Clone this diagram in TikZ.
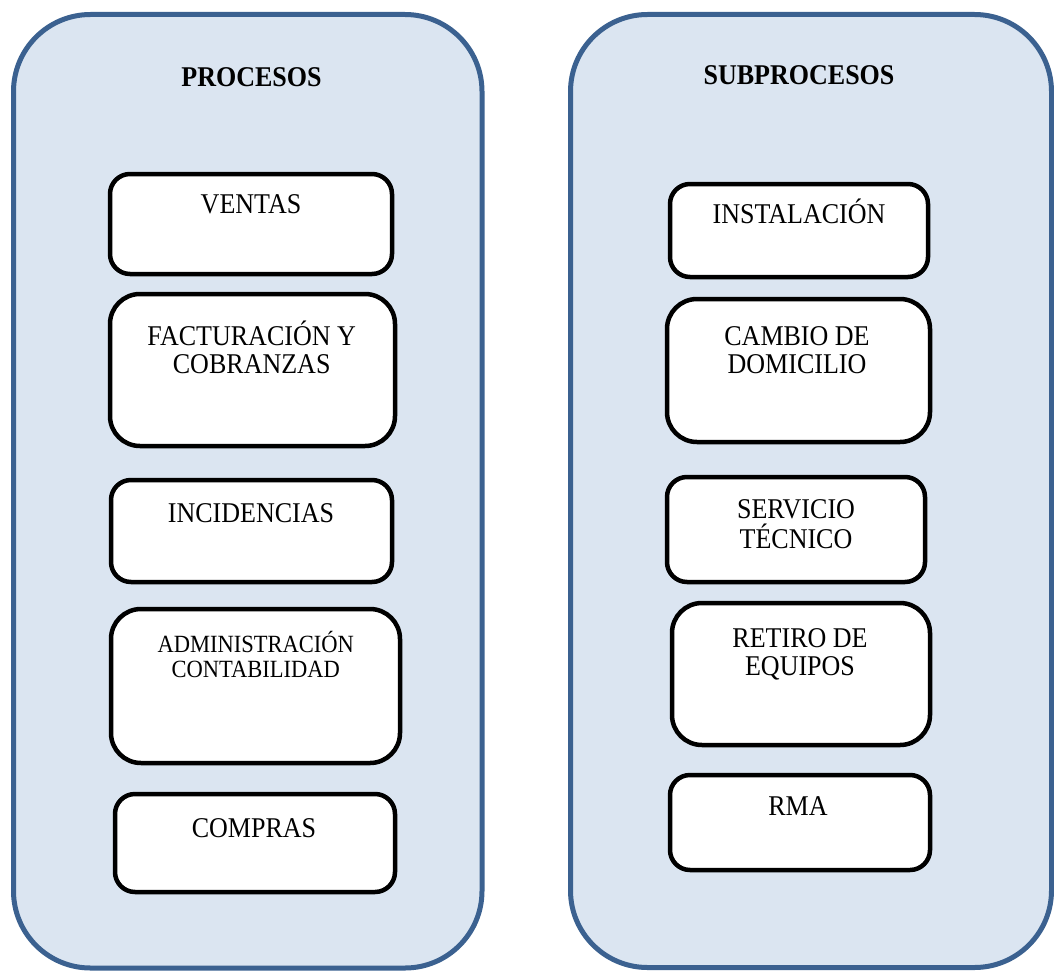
\documentclass[tikz,border=0pt]{standalone}
\usepackage{fontspec}
\setmainfont{Liberation Serif}[FakeStretch=0.91]
\definecolor{panelfill}{HTML}{DBE5F1}
\definecolor{paneldraw}{HTML}{3B6190}
\begin{document}
\begin{tikzpicture}[x=1pt,y=-1pt,
  panel/.style={draw=paneldraw, fill=panelfill, line width=5pt, rectangle, rounded corners=77pt, inner sep=0pt},
  procbox/.style={draw=black, fill=white, line width=4.5pt, rectangle, inner sep=0pt, rounded corners=#1},
  procbox/.default=20pt,
  lbl/.style={font=\fontsize{28.6}{28}\selectfont, anchor=base, align=center, inner sep=0pt},
  title/.style={font=\fontsize{28.6}{28}\selectfont\bfseries, anchor=base, inner sep=0pt}]
\useasboundingbox (0,0) rectangle (1054,971);
% panels
\node[panel, minimum width=468.5pt, minimum height=953.5pt] (procpanel) at (247.75,491.25) {};
\node[panel, minimum width=481pt, minimum height=953pt] (subpanel) at (811,491) {};
% titles
\node[title] (proctitle) at (251.5,87) {PROCESOS};
\node[title] (subtitle) at (799,85) {SUBPROCESOS};
% left boxes
\node[procbox, minimum width=282pt, minimum height=100pt] (ventas) at (251,224) {};
\node[procbox=30pt, minimum width=285pt, minimum height=152pt] (fact) at (252.5,370) {};
\node[procbox, minimum width=281pt, minimum height=102pt] (incid) at (251.5,531) {};
\node[procbox=30pt, minimum width=289pt, minimum height=154pt] (admin) at (255.5,686) {};
\node[procbox, minimum width=280pt, minimum height=98pt] (compras) at (255,843) {};
% right boxes
\node[procbox, minimum width=258pt, minimum height=93pt] (instal) at (799,230.5) {};
\node[procbox=30pt, minimum width=263pt, minimum height=143pt] (cambio) at (798.5,370.5) {};
\node[procbox, minimum width=258pt, minimum height=105pt] (serv) at (796,529.5) {};
\node[procbox=30pt, minimum width=258pt, minimum height=142pt] (retiro) at (801,674) {};
\node[procbox, minimum width=260pt, minimum height=95pt] (rma) at (800,822.5) {};
% labels (anchor = baseline of the last line)
\node[lbl] (ventasT) at (251,213) {VENTAS};
\node[lbl] (factT) at (251.7,373) {FACTURACIÓN Y\\COBRANZAS};
\node[lbl] (incidT) at (251,522) {INCIDENCIAS};
\node[lbl, font=\fontsize{24.75}{25}\selectfont] (adminT) at (255.8,677) {ADMINISTRACIÓN\\CONTABILIDAD};
\node[lbl] (comprasT) at (254,837) {COMPRAS};
\node[lbl] (instalT) at (799,223) {INSTALACIÓN};
\node[lbl] (cambioT) at (797,373) {CAMBIO DE\\DOMICILIO};
\node[lbl, font=\fontsize{28.6}{30}\selectfont] (servT) at (796,548) {SERVICIO\\TÉCNICO};
\node[lbl] (retiroT) at (800,675) {RETIRO DE\\EQUIPOS};
\node[lbl] (rmaT) at (798,815) {RMA};
\end{tikzpicture}
\end{document}
